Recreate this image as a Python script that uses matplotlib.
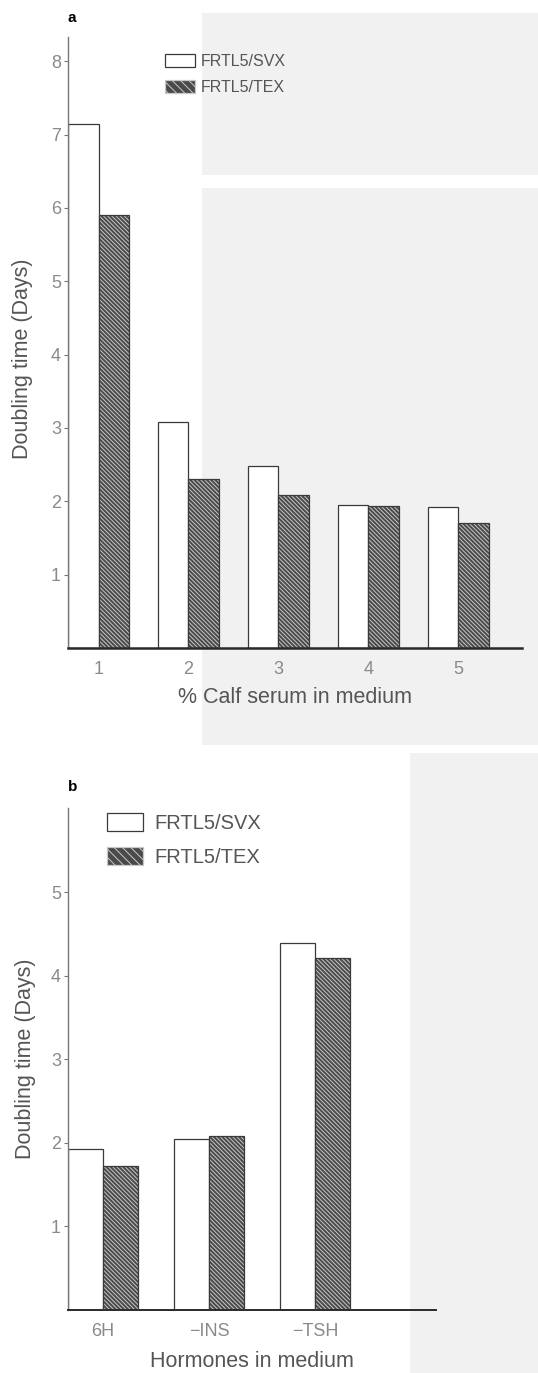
import matplotlib
matplotlib.use("Agg")
from matplotlib import pyplot as plt
from matplotlib.patches import Patch, Rectangle
import numpy as np

# panel a: doubling time vs % calf serum
serum = [1, 2, 3, 4, 5]
svx_serum = [7.15, 3.08, 2.48, 1.95, 1.92]
tex_serum = [5.90, 2.31, 2.08, 1.94, 1.71]

# panel b: doubling time vs hormones
hormones = ['6H', '\u2212INS', '\u2212TSH']
svx_horm = [1.93, 2.05, 4.39]
tex_horm = [1.72, 2.08, 4.21]

names = ['FRTL5/SVX', 'FRTL5/TEX']

plt.rcParams['font.family'] = ['Liberation Sans', 'DejaVu Sans']
plt.rcParams['hatch.linewidth'] = 0.7

TEX_FACE = '#4a4a4a'
HATCH_COL = '#c8c8c8'
EDGE = '#3a3a3a'
TICK_COL = '#8a8a8a'
LABEL_COL = '#555555'
HATCH = '\\' * 8


def draw_bars(ax, x, svx, tex, w):
    x = np.asarray(x, dtype=float)
    ax.bar(x - w / 2, svx, w, color='white', edgecolor=EDGE, lw=0.9, zorder=2)
    ax.bar(x + w / 2, tex, w, color=TEX_FACE, edgecolor=HATCH_COL, lw=0,
           hatch=HATCH, zorder=2)
    ax.bar(x + w / 2, tex, w, color='none', edgecolor=EDGE, lw=0.9, zorder=3)


def style_axis(ax, ymax, ticks):
    ax.set_facecolor('none')
    ax.set_ylim(0, ymax)
    ax.set_yticks(ticks)
    for s in ['top', 'right']:
        ax.spines[s].set_visible(False)
    ax.spines['left'].set_color('#777777')
    ax.spines['left'].set_linewidth(1.0)
    ax.spines['bottom'].set_color('#2a2a2a')
    ax.spines['bottom'].set_linewidth(1.8)
    ax.tick_params(axis='y', direction='out', length=3, width=0.8,
                   color='#777777', labelcolor=TICK_COL, labelsize=13, pad=2)
    ax.tick_params(axis='x', length=0, labelcolor=TICK_COL, labelsize=13, pad=9)
    ax.set_ylabel('Doubling time (Days)', color=LABEL_COL, fontsize=15.5, labelpad=11)


def legend_handles():
    h1 = Patch(facecolor='white', edgecolor=EDGE, lw=0.9)
    h2 = Patch(facecolor=TEX_FACE, edgecolor=HATCH_COL, lw=0.9, hatch='\\' * 4)
    return [h1, h2]


fig = plt.figure(figsize=(5.38, 13.73), dpi=100)

# scanned-page shading on the right
for x0, y0, x1, y1 in [(0.375, 0.8725, 1.0, 0.9905),
                       (0.375, 0.4574, 1.0, 0.8631),
                       (0.762, 0.0, 1.0, 0.4516)]:
    fig.patches.append(Rectangle((x0, y0), x1 - x0, y1 - y0, transform=fig.transFigure,
                                 facecolor='#f1f1f1', edgecolor='none', zorder=-10))

# ---- panel a ----
ax1 = fig.add_axes([68 / 538, 1 - 648 / 1373, (522 - 68) / 538, (648 - 37) / 1373])
draw_bars(ax1, serum, svx_serum, tex_serum, 0.34)
style_axis(ax1, 8.33, range(1, 9))
ax1.yaxis.set_label_coords(-0.078, 0.474)
ax1.set_xlim(0.66, 5.71)
ax1.set_xticks(serum)
ax1.set_xlabel('% Calf serum in medium', color=LABEL_COL, fontsize=15.5, labelpad=7)
leg = ax1.legend(legend_handles(), names, loc='upper left', bbox_to_anchor=(0.2137, 0.972),
                 frameon=False, fontsize=11.5, borderpad=0, borderaxespad=0,
                 handlelength=1.9, handleheight=0.85, handletextpad=0.35, labelspacing=0.7)
for t in leg.get_texts():
    t.set_color(LABEL_COL)
fig.text(68 / 538, 1 - 18 / 1373, 'a', fontsize=11, fontweight='bold', va='center', ha='left')

# ---- panel b ----
ax2 = fig.add_axes([68 / 538, 1 - 1310 / 1373, (436 - 68) / 538, (1310 - 808) / 1373])
xb = np.arange(len(hormones))
draw_bars(ax2, xb, svx_horm, tex_horm, 0.33)
style_axis(ax2, 6.01, range(1, 6))
ax2.spines['bottom'].set_linewidth(1.4)
ax2.set_xlim(-0.33, 3.14)
ax2.set_xticks(xb)
ax2.set_xticklabels(hormones)
ax2.set_xlabel('Hormones in medium', color=LABEL_COL, fontsize=15.5, labelpad=8)
leg2 = ax2.legend(legend_handles(), names, loc='upper left', bbox_to_anchor=(0.106, 0.99),
                  frameon=False, fontsize=14.5, borderpad=0, borderaxespad=0,
                  handlelength=1.8, handleheight=1.0, handletextpad=0.55, labelspacing=0.7)
for t in leg2.get_texts():
    t.set_color(LABEL_COL)
fig.text(68 / 538, 1 - 787 / 1373, 'b', fontsize=11, fontweight='bold', va='center', ha='left')

fig.savefig('out.png', dpi=100)
